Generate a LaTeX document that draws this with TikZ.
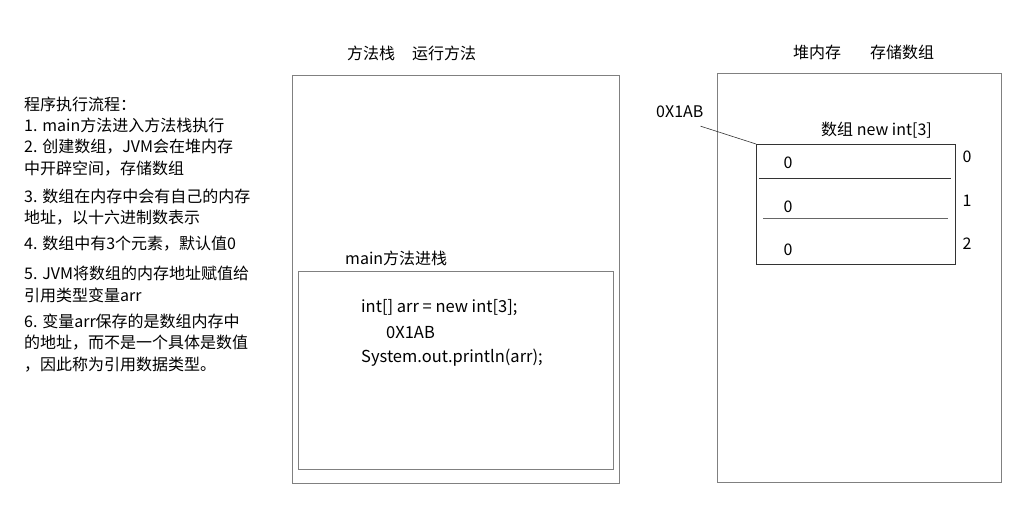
\documentclass[tikz,border=0pt]{standalone}
\usepackage{fontspec}
\setmainfont{Noto Sans CJK SC}
\begin{document}
\begin{tikzpicture}[x=1pt, y=-1pt,
  frame/.style={draw=black!50, line width=1pt},
  txt/.style={font=\fontsize{16}{19}\selectfont, inner sep=0pt, anchor=west},
  code/.style={txt, font=\fontsize{16.5}{19}\selectfont}]
  \useasboundingbox (0,0) rectangle (1027,506);
  % steps on the left
  \node[txt] (l0) at (24,104) {程序执行流程：};
  \node[txt] (l1) at (24,125) {1. main方法进入方法栈执行};
  \node[txt] (l2) at (24,147) {2. 创建数组，JVM会在堆内存};
  \node[txt] (l3) at (24,169) {中开辟空间，存储数组};
  \node[txt] (l4) at (24,196) {3. 数组在内存中会有自己的内存};
  \node[txt] (l5) at (24,218) {地址，以十六进制数表示};
  \node[txt] (l6) at (24,244) {4. 数组中有3个元素，默认值0};
  \node[txt] (l7) at (24,273) {5. JVM将数组的内存地址赋值给};
  \node[txt] (l8) at (24,295) {引用类型变量arr};
  \node[txt] (l9) at (24,321) {6. 变量arr保存的是数组内存中};
  \node[txt] (l10) at (24,343) {的地址，而不是一个具体是数值};
  \node[txt] (l11) at (24,365) {，因此称为引用数据类型。};
  % method stack
  \node[txt] (stk) at (347,53) {方法栈};
  \node[txt] (run) at (412,53) {运行方法};
  \draw[frame] (292,75) rectangle (619,483);
  \node[txt] (push) at (345,258) {main方法进栈};
  \draw[frame] (298,271) rectangle (613,469);
  \node[code] (c1) at (361,308) {int[] arr = new int[3];};
  \node[code] (c2) at (386,333) {0X1AB};
  \node[code] (c3) at (361,358) {System.out.println(arr);};
  % heap
  \node[txt] (heap) at (793,52) {堆内存};
  \node[txt] (keep) at (870,52) {存储数组};
  \draw[frame] (717,73) rectangle (1001,482);
  \node[txt] (addr) at (656,112) {0X1AB};
  \node[txt] (name) at (821,130) {数组 new int[3]};
  \node[draw=black!80, line width=0.8pt, minimum width=199, minimum height=120,
    anchor=north west, inner sep=0pt] (arr) at (756,144) {};
  \draw[black!80, line width=0.8pt] (759,178) -- (951,178);
  \draw[black!60, line width=0.8pt] (763,218) -- (948,218);
  \node[txt, anchor=center] (v0) at (788,163) {0};
  \node[txt, anchor=center] (v1) at (788,207) {0};
  \node[txt, anchor=center] (v2) at (788,250) {0};
  \node[txt, anchor=center] (i0) at (967,157) {0};
  \node[txt, anchor=center] (i1) at (967,201) {1};
  \node[txt, anchor=center] (i2) at (967,244) {2};
  \draw[black!80, line width=0.6pt] ([shift={(-3,8)}]addr.south east) -- (arr.north west);
\end{tikzpicture}
\end{document}
